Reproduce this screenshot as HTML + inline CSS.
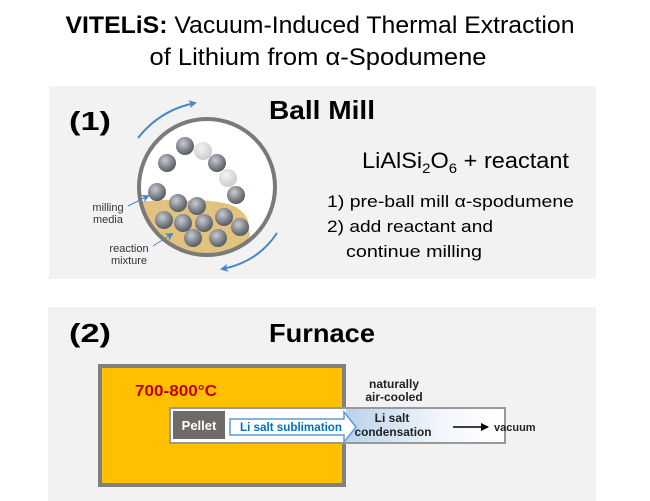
<!DOCTYPE html>
<html><head><meta charset="utf-8"><style>
html,body{margin:0;padding:0;background:#fff}
svg{display:block}
text{font-family:"Liberation Sans",sans-serif}
</style></head><body>
<svg width="650" height="501" viewBox="0 0 650 501" xmlns="http://www.w3.org/2000/svg">
<defs>
<radialGradient id="ball" cx="0.4" cy="0.35" r="0.7">
<stop offset="0" stop-color="#c8cbd0"/><stop offset="0.6" stop-color="#7d828a"/><stop offset="1" stop-color="#4f545b"/>
</radialGradient>
<radialGradient id="lball" cx="0.4" cy="0.35" r="0.7">
<stop offset="0" stop-color="#f4f4f4"/><stop offset="1" stop-color="#c9c9c9"/>
</radialGradient>
<linearGradient id="cool" x1="0" x2="1" y1="0" y2="0">
<stop offset="0" stop-color="#b9d3ec"/><stop offset="0.6" stop-color="#f2f6fb"/><stop offset="1" stop-color="#ffffff"/>
</linearGradient>
<clipPath id="cc"><circle cx="207" cy="187" r="67"/></clipPath>
<marker id="ah" markerWidth="8" markerHeight="8" refX="6" refY="4" orient="auto" markerUnits="userSpaceOnUse"><path d="M0,0 L8,4 L0,8 L2,4 Z" fill="#4a86c5"/></marker>
<marker id="ak" markerWidth="8" markerHeight="8" refX="7" refY="4" orient="auto" markerUnits="userSpaceOnUse"><path d="M0,0 L8,4 L0,8 Z" fill="#000"/></marker>
</defs>

<!-- title -->
<text x="320" y="33" font-size="24" text-anchor="middle" textLength="509" lengthAdjust="spacingAndGlyphs"><tspan font-weight="bold">VITELiS:</tspan> Vacuum-Induced Thermal Extraction</text>
<text x="318" y="65" font-size="24" text-anchor="middle" textLength="337" lengthAdjust="spacingAndGlyphs">of Lithium from α-Spodumene</text>

<!-- panel 1 -->
<rect x="49" y="86" width="547" height="193" fill="#f2f2f2"/>
<text x="69" y="130" font-size="26" font-weight="bold" textLength="42" lengthAdjust="spacingAndGlyphs">(1)</text>
<text x="269" y="119" font-size="26" font-weight="bold" textLength="106" lengthAdjust="spacingAndGlyphs">Ball Mill</text>

<circle cx="207" cy="187" r="68" fill="#fff"/>
<g clip-path="url(#cc)">
<path d="M130,203 C150,200 170,199 185,201 C200,199 215,201 228,204 C238,207 244,212 248,220 L250,235 L244,248 L200,270 L130,270 Z" fill="#e2c27f"/>
</g>
<circle cx="207" cy="187" r="68" fill="none" stroke="#7a7a7a" stroke-width="4"/>
<g>
<circle cx="185" cy="146" r="9" fill="url(#ball)"/>
<circle cx="203" cy="151" r="9" fill="url(#lball)"/>
<circle cx="167" cy="163" r="9" fill="url(#ball)"/>
<circle cx="217" cy="163" r="9" fill="url(#ball)"/>
<circle cx="228" cy="178" r="9" fill="url(#lball)"/>
<circle cx="157" cy="192" r="9" fill="url(#ball)"/>
<circle cx="236" cy="195" r="9" fill="url(#ball)"/>
<circle cx="178" cy="203" r="9" fill="url(#ball)"/>
<circle cx="197" cy="206" r="9" fill="url(#ball)"/>
<circle cx="164" cy="220" r="9" fill="url(#ball)"/>
<circle cx="183" cy="223" r="9" fill="url(#ball)"/>
<circle cx="204" cy="223" r="9" fill="url(#ball)"/>
<circle cx="224" cy="217" r="9" fill="url(#ball)"/>
<circle cx="240" cy="227" r="9" fill="url(#ball)"/>
<circle cx="193" cy="238" r="9" fill="url(#ball)"/>
<circle cx="218" cy="238" r="9" fill="url(#ball)"/>
</g>
<path d="M138,138 Q160,110 195,103" fill="none" stroke="#4a86c5" stroke-width="2" marker-end="url(#ah)"/>
<path d="M277,233 Q258,262 222,269" fill="none" stroke="#4a86c5" stroke-width="2" marker-end="url(#ah)"/>

<text x="108" y="211" font-size="11" fill="#333" text-anchor="middle">milling</text>
<text x="108" y="223" font-size="11" fill="#333" text-anchor="middle">media</text>
<path d="M128,206 L148,196" stroke="#4a86c5" stroke-width="1" marker-end="url(#ah)"/>
<text x="129" y="252" font-size="11" fill="#333" text-anchor="middle">reaction</text>
<text x="129" y="264" font-size="11" fill="#333" text-anchor="middle">mixture</text>
<path d="M153,246 L172,234" stroke="#4a86c5" stroke-width="1" marker-end="url(#ah)"/>

<text x="362" y="168" font-size="22" textLength="207" lengthAdjust="spacingAndGlyphs">LiAlSi<tspan font-size="14" dy="5">2</tspan><tspan dy="-5">O</tspan><tspan font-size="14" dy="5">6</tspan><tspan dy="-5"> + reactant</tspan></text>
<text x="327" y="207" font-size="17" textLength="247" lengthAdjust="spacingAndGlyphs">1) pre-ball mill α-spodumene</text>
<text x="327" y="232" font-size="17" textLength="166" lengthAdjust="spacingAndGlyphs">2) add reactant and</text>
<text x="346" y="257" font-size="17" textLength="136" lengthAdjust="spacingAndGlyphs">continue milling</text>

<!-- panel 2 -->
<rect x="48" y="307" width="548" height="194" fill="#f2f2f2"/>
<text x="69" y="342" font-size="26" font-weight="bold" textLength="42" lengthAdjust="spacingAndGlyphs">(2)</text>
<text x="269" y="342" font-size="26" font-weight="bold" textLength="106" lengthAdjust="spacingAndGlyphs">Furnace</text>

<rect x="100" y="366" width="244" height="119" fill="#ffc000" stroke="#808080" stroke-width="4"/>
<text x="135" y="396" font-size="16" font-weight="bold" fill="#c00000" textLength="82" lengthAdjust="spacingAndGlyphs">700-800°C</text>

<rect x="170" y="408" width="335" height="35" fill="#fff" stroke="#999" stroke-width="2"/>
<rect x="346" y="409" width="158" height="33" fill="url(#cool)"/>
<rect x="173" y="411" width="52" height="28" fill="#6f6a68"/>
<text x="199" y="430" font-size="13" font-weight="bold" fill="#fff" text-anchor="middle">Pellet</text>
<path d="M230,419 L344,419 L344,412 L356,427 L344,442 L344,435 L230,435 Z" fill="#fff" stroke="#5b9bd5" stroke-width="1.5"/>
<text x="240" y="431" font-size="12" font-weight="bold" fill="#0070c0" textLength="102" lengthAdjust="spacingAndGlyphs">Li salt sublimation</text>

<text x="394" y="388" font-size="12" font-weight="bold" fill="#222" text-anchor="middle">naturally</text>
<text x="394" y="401" font-size="12" font-weight="bold" fill="#222" text-anchor="middle">air-cooled</text>
<text x="392" y="422" font-size="12" font-weight="bold" fill="#222" text-anchor="middle">Li salt</text>
<text x="393" y="436" font-size="12" font-weight="bold" fill="#222" text-anchor="middle" textLength="77" lengthAdjust="spacingAndGlyphs">condensation</text>
<path d="M453,427 L488,427" stroke="#000" stroke-width="1.5" marker-end="url(#ak)"/>
<text x="494" y="431" font-size="11" font-weight="bold" fill="#222">vacuum</text>
</svg>
</body></html>
